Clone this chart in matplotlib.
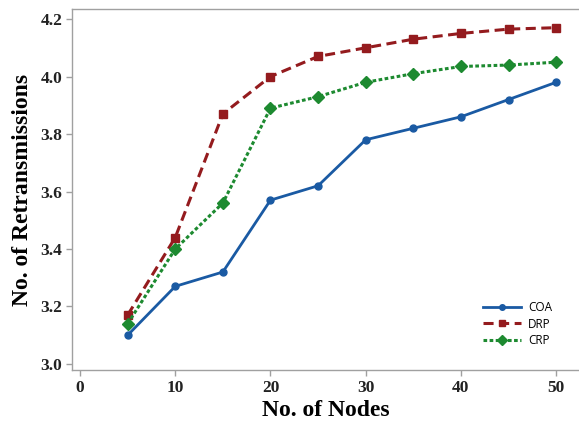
import matplotlib
matplotlib.use("Agg")
import matplotlib.pyplot as plt

nodes = [5, 10, 15, 20, 25, 30, 35, 40, 45, 50]
coa = [3.10, 3.27, 3.32, 3.57, 3.62, 3.78, 3.82, 3.86, 3.92, 3.98]
drp = [3.17, 3.44, 3.87, 4.00, 4.07, 4.10, 4.13, 4.15, 4.165, 4.17]
crp = [3.14, 3.40, 3.56, 3.89, 3.93, 3.98, 4.01, 4.035, 4.04, 4.05]
xticks = [0, 10, 20, 30, 40, 50]
yticks = [3.0, 3.2, 3.4, 3.6, 3.8, 4.0, 4.2]

fig = plt.figure(figsize=(5.79, 4.23), dpi=100)
ax = fig.add_axes([0.1244, 0.1253, 0.8756, 0.8534])

ax.plot(nodes, coa, color='#1a5aa3', lw=2.0, marker='o', ms=5, label='COA')
ax.plot(nodes, drp, color='#941b1e', lw=2.2, dashes=(3.3, 1.8), marker='s', ms=6, label='DRP')
ax.plot(nodes, crp, color='#1d8a30', lw=2.2, dashes=(1.2, 0.8), marker='D', ms=6, label='CRP')

ax.set_xlim(-0.84, 52.4)
ax.set_ylim(2.979, 4.235)
ax.set_xticks(xticks)
ax.set_yticks(yticks)
ax.set_xticklabels([str(t) for t in xticks])
ax.set_yticklabels([f"{t:.1f}" for t in yticks])

for lab in ax.get_xticklabels() + ax.get_yticklabels():
    lab.set_fontfamily('Liberation Serif')
    lab.set_fontweight('bold')
    lab.set_fontsize(12.5)

for s in ['left', 'bottom', 'top']:
    ax.spines[s].set_color('#a0a0a0')
    ax.spines[s].set_linewidth(1.0)
ax.spines['right'].set_visible(False)
ax.tick_params(colors='#a0a0a0', length=4, width=1, labelcolor='#222222', pad=3)

ax.set_xlabel('No. of Nodes', fontfamily='Liberation Serif', fontweight='bold', fontsize=17, labelpad=3)
ax.set_ylabel('No. of Retransmissions', fontfamily='Liberation Serif', fontweight='bold', fontsize=17, labelpad=5)

leg = ax.legend(loc='lower right', bbox_to_anchor=(0.968, 0.034), frameon=False,
                prop={'family': 'Open Sans', 'size': 8.5}, handlelength=3.2,
                labelspacing=0.3, handletextpad=0.6, markerscale=0.8)

fig.savefig('out.png', dpi=100)
